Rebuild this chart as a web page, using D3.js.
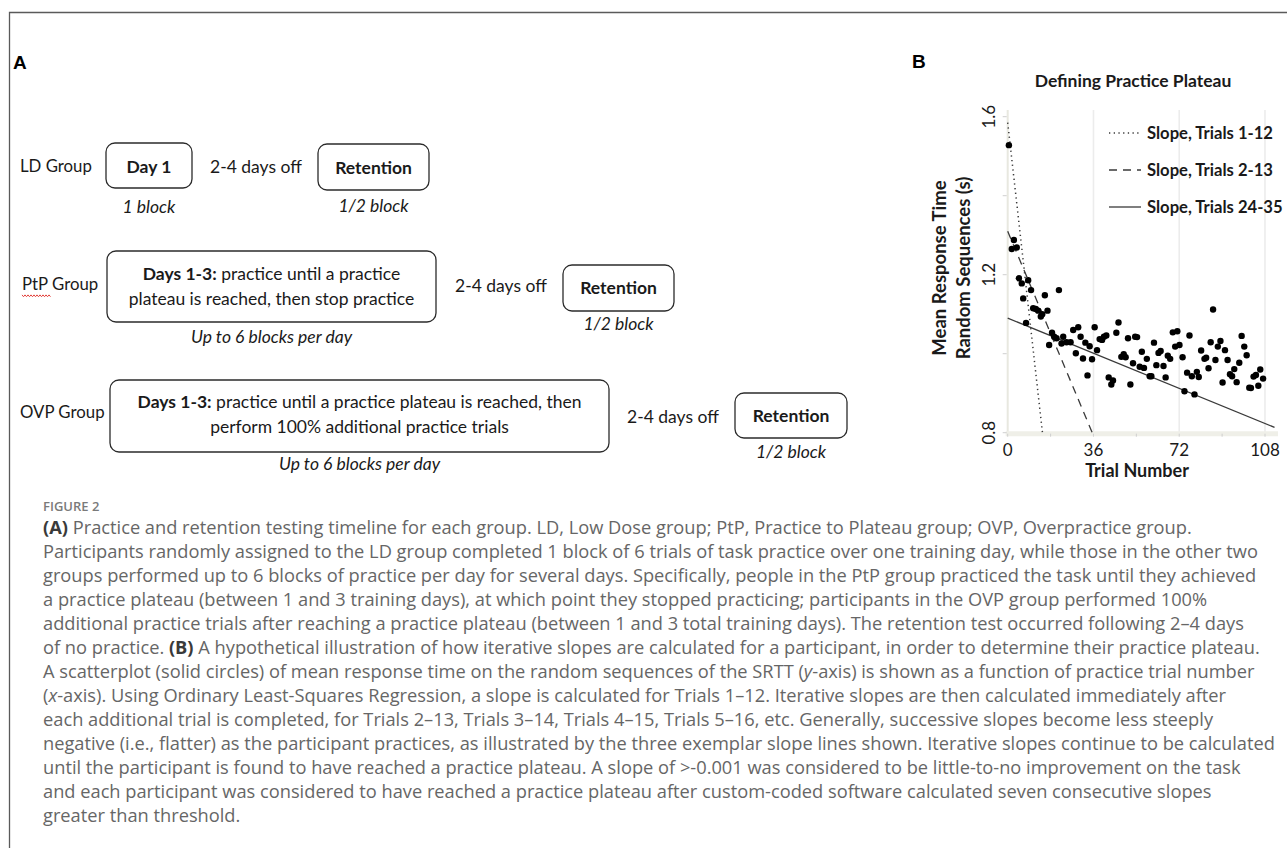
<!DOCTYPE html>
<html>
<head>
<meta charset="utf-8">
<script src="https://cdn.jsdelivr.net/npm/d3@7"></script>
<style>
  body { margin: 0; background: #fff; }
  svg { display: block; }
</style>
</head>
<body>
<svg id="fig" width="1287" height="848"></svg>
<script>
// Panel B scatter (trial number, mean RT in s)
const trials = [0.5, 1.7, 2.6, 3.8, 4.7, 5.9, 6.5, 7.7, 8.6, 9.8,
  10.7, 11.8, 12.8, 13.9, 14.5, 15.6, 16.7, 17.4, 18.6, 19.5,
  20.5, 21.5, 22.6, 23.3, 24.7, 26.4, 27.5, 28.6, 29.6, 30.6,
  31.6, 32.6, 33.5, 34.4, 35.4, 36.5, 37.5, 38.6, 39.6, 40.4,
  41.4, 42.4, 43.5, 44.2, 45.6, 46.5, 47.7, 48.7, 49.5, 50.5,
  51.5, 52.6, 53.5, 54.3, 55.4, 56.3, 57.2, 58.4, 59.6, 60.3,
  61.4, 62.4, 63.3, 64.2, 65.4, 66.3, 67.2, 68.2, 69.3, 70.3,
  71.2, 72.1, 73.4, 74.2, 75.3, 76.3, 77.3, 78.4, 79.4, 80.2,
  81.2, 82.6, 83.3, 84.3, 85.2, 86.2, 87.2, 88.2, 89.3, 90.2,
  91.2, 92.3, 93.3, 94.2, 95.1, 96.1, 97.2, 98.2, 99.3, 100.3,
  101.4, 102.1, 103.2, 104.2, 105.2, 106.0, 107.2];
const rtValues = [1.528, 1.265, 1.288, 1.269, 1.191, 1.178, 1.140, 1.078, 1.186, 1.161,
  1.115, 1.113, 1.109, 1.094, 1.100, 1.148, 1.109, 1.022, 1.053, 1.043,
  1.039, 1.161, 1.026, 1.043, 1.029, 1.029, 1.060, 1.001, 1.067, 1.043,
  0.988, 1.028, 0.945, 1.019, 0.986, 1.067, 1.009, 1.037, 1.035, 1.043,
  1.046, 0.940, 0.922, 0.932, 1.053, 1.079, 0.992, 0.999, 0.991, 1.039,
  0.922, 0.976, 1.043, 1.042, 0.967, 1.005, 0.964, 0.987, 0.943, 0.943,
  1.028, 0.971, 1.002, 1.007, 0.969, 0.940, 0.995, 0.987, 1.054, 1.018,
  1.057, 1.022, 0.991, 0.905, 0.952, 1.046, 0.943, 0.897, 0.954, 0.941,
  1.008, 0.987, 0.990, 0.963, 1.029, 1.112, 0.984, 1.018, 1.032, 0.927,
  1.009, 0.984, 0.948, 0.943, 0.961, 0.928, 0.977, 1.045, 1.018, 0.996,
  0.914, 0.913, 0.942, 0.946, 0.919, 0.960, 0.937];

const xTicks = [0, 36, 72, 108];
const xMinorTicks = [18, 54, 90];
const yTicks = [0.8, 1.2, 1.6];
const yMinorTicks = [1.0, 1.4];

// the three exemplar regression lines
const slopeNames = ["Slope, Trials 1-12", "Slope, Trials 2-13", "Slope, Trials 24-35"];
const slopeIntercepts = [1.585, 1.31, 1.09];
const slopeRates = [-0.0538, -0.01437, -0.00247];
const slopeEnds = [14.6, 35.5, 112];

// Panel A text
const groupNames = ["LD Group", "PtP Group", "OVP Group"];
const practiceText = [
  ["**Day 1**"],
  ["**Days 1-3:** practice until a practice", "plateau is reached, then stop practice"],
  ["**Days 1-3:** practice until a practice plateau is reached, then", "perform 100% additional practice trials"]
];
const practiceNotes = ["1 block", "Up to 6 blocks per day", "Up to 6 blocks per day"];
const gapText = "2-4 days off";
const retentionText = "Retention";
const retentionNote = "1/2 block";

const captionLines = [
  "**(A)** Practice and retention testing timeline for each group. LD, Low Dose group; PtP, Practice to Plateau group; OVP, Overpractice group.",
  "Participants randomly assigned to the LD group completed 1 block of 6 trials of task practice over one training day, while those in the other two",
  "groups performed up to 6 blocks of practice per day for several days. Specifically, people in the PtP group practiced the task until they achieved",
  "a practice plateau (between 1 and 3 training days), at which point they stopped practicing; participants in the OVP group performed 100%",
  "additional practice trials after reaching a practice plateau (between 1 and 3 total training days). The retention test occurred following 2\u20134 days",
  "of no practice. **(B)** A hypothetical illustration of how iterative slopes are calculated for a participant, in order to determine their practice plateau.",
  "A scatterplot (solid circles) of mean response time on the random sequences of the SRTT (_y_-axis) is shown as a function of practice trial number",
  "(_x_-axis). Using Ordinary Least-Squares Regression, a slope is calculated for Trials 1\u201312. Iterative slopes are then calculated immediately after",
  "each additional trial is completed, for Trials 2\u201313, Trials 3\u201314, Trials 4\u201315, Trials 5\u201316, etc. Generally, successive slopes become less steeply",
  "negative (i.e., flatter) as the participant practices, as illustrated by the three exemplar slope lines shown. Iterative slopes continue to be calculated",
  "until the participant is found to have reached a practice plateau. A slope of >-0.001 was considered to be little-to-no improvement on the task",
  "and each participant was considered to have reached a practice plateau after custom-coded software calculated seven consecutive slopes",
  "greater than threshold."
];

const svg = d3.select("#fig");
const sansA = "Lato, 'Open Sans', sans-serif";

// **bold** and _italic_ runs inside one text element
function richText(sel, str) {
  str.split(/(\*\*[^*]+\*\*|_[^_]+_)/).filter(s => s).forEach(p => {
    const t = sel.append("tspan");
    if (p.startsWith("**")) t.attr("font-weight", 700).text(p.slice(2, -2));
    else if (p.startsWith("_")) t.attr("font-style", "italic").text(p.slice(1, -1));
    else t.text(p);
  });
}

// frame
svg.append("path")
  .attr("d", "M9.5,860 V12.5 H1300")
  .attr("fill", "none")
  .attr("stroke", "#5a5a5a")
  .attr("stroke-width", 1.3);

// panel letters
svg.append("text").attr("x", 13).attr("y", 69).text("A")
  .attr("font-family", "'Liberation Sans', Arial, sans-serif").attr("font-weight", 700).attr("font-size", 19);
svg.append("text").attr("x", 912).attr("y", 68).text("B")
  .attr("font-family", "'Liberation Sans', Arial, sans-serif").attr("font-weight", 700).attr("font-size", 19);

// ---------- Panel A: timeline ----------
const rows = [
  { label: [20, 172], box: [106, 143, 86, 45], lines: [173], note: 213,
    gap: [210, 173], ret: [318, 144, 111, 46], retBase: 174, retNote: 212 },
  { label: [22, 290], box: [107, 251, 329, 71], lines: [280, 305], note: 343,
    gap: [455, 292], ret: [563, 265, 111, 46], retBase: 294, retNote: 330 },
  { label: [20, 418], box: [110, 380, 499, 72], lines: [408, 433], note: 470,
    gap: [627, 423], ret: [735, 393, 112, 45], retBase: 422, retNote: 458 }
];

const panelA = svg.append("g")
  .attr("font-family", sansA)
  .attr("font-size", 17.5)
  .attr("fill", "#1a1a1a");

rows.forEach((r, i) => {
  panelA.append("text").attr("x", r.label[0]).attr("y", r.label[1])
    .attr("font-size", 16.8).text(groupNames[i]);

  const [bx, by, bw, bh] = r.box;
  panelA.append("rect")
    .attr("x", bx).attr("y", by).attr("width", bw).attr("height", bh)
    .attr("rx", 9).attr("fill", "none").attr("stroke", "#2b2b2b").attr("stroke-width", 1.3);
  practiceText[i].forEach((ln, j) => {
    const t = panelA.append("text")
      .attr("x", bx + bw / 2).attr("y", r.lines[j])
      .attr("text-anchor", "middle");
    richText(t, ln);
  });
  panelA.append("text")
    .attr("x", bx + bw / 2).attr("y", r.note)
    .attr("text-anchor", "middle").attr("font-style", "italic")
    .text(practiceNotes[i]);

  panelA.append("text").attr("x", r.gap[0]).attr("y", r.gap[1]).text(gapText);

  const [rx, ry, rw, rh] = r.ret;
  panelA.append("rect")
    .attr("x", rx).attr("y", ry).attr("width", rw).attr("height", rh)
    .attr("rx", 9).attr("fill", "none").attr("stroke", "#2b2b2b").attr("stroke-width", 1.3);
  panelA.append("text")
    .attr("x", rx + rw / 2).attr("y", r.retBase)
    .attr("text-anchor", "middle").attr("font-weight", 700)
    .text(retentionText);
  panelA.append("text")
    .attr("x", rx + rw / 2).attr("y", r.retNote)
    .attr("text-anchor", "middle").attr("font-style", "italic")
    .text(retentionNote);
});

// spell-check squiggle under "PtP"
const squiggle = d3.range(0, 29, 1.5).map((d, k) => [22 + d, 295.5 + (k % 2 ? 1.2 : -0.6)]);
svg.append("path")
  .attr("d", d3.line()(squiggle))
  .attr("fill", "none").attr("stroke", "#e0302a").attr("stroke-width", 0.9);

// ---------- Panel B: scatter ----------
const x = d3.scaleLinear().domain([0, 108]).range([1007.7, 1265]);
const y = d3.scaleLinear().domain([0.8, 1.6]).range([432.7, 116.7]);

const panelB = svg.append("g").attr("font-family", sansA).attr("fill", "#1a1a1a");

// grid and axis bands
panelB.append("g").selectAll("line")
  .data(xTicks.slice(1))
  .join("line")
  .attr("x1", d => x(d)).attr("x2", d => x(d))
  .attr("y1", 110).attr("y2", 436)
  .attr("stroke", "#ececec").attr("stroke-width", 1.6);

panelB.append("line")
  .attr("x1", x(0)).attr("x2", x(0)).attr("y1", 110).attr("y2", 436)
  .attr("stroke", "#e8e8e0").attr("stroke-width", 2);
panelB.append("line")
  .attr("x1", x(0) - 2).attr("x2", 1278).attr("y1", y(0.8) + 1).attr("y2", y(0.8) + 1)
  .attr("stroke", "#efefe8").attr("stroke-width", 5);

// small gray ticks
panelB.append("g").selectAll("line")
  .data(xMinorTicks.concat(xTicks))
  .join("line")
  .attr("x1", d => x(d)).attr("x2", d => x(d))
  .attr("y1", y(0.8) + 1).attr("y2", y(0.8) + 4)
  .attr("stroke", "#cfcfcf").attr("stroke-width", 1);
panelB.append("g").selectAll("line")
  .data(yMinorTicks.concat(yTicks))
  .join("line")
  .attr("x1", x(0) - 5).attr("x2", x(0) - 1)
  .attr("y1", d => y(d)).attr("y2", d => y(d))
  .attr("stroke", "#cfcfcf").attr("stroke-width", 1);

// tick labels
panelB.append("g").selectAll("text")
  .data(xTicks)
  .join("text")
  .attr("x", d => x(d)).attr("y", 456)
  .attr("text-anchor", "middle").attr("font-size", 17)
  .text(d => d);
panelB.append("g").selectAll("text")
  .data(yTicks)
  .join("text")
  .attr("transform", d => `translate(995,${y(d)}) rotate(-90)`)
  .attr("text-anchor", "middle").attr("font-size", 17)
  .text(d => d.toFixed(1));

// axis titles
panelB.append("text")
  .attr("x", 1137).attr("y", 477)
  .attr("text-anchor", "middle").attr("font-size", 18).attr("font-weight", 700)
  .text("Trial Number");
const yTitle = panelB.append("text")
  .attr("transform", "translate(946,268) rotate(-90)")
  .attr("text-anchor", "middle").attr("font-size", 18.5).attr("font-weight", 700);
yTitle.append("tspan").attr("x", 0).attr("dy", 0).text("Mean Response Time");
yTitle.append("tspan").attr("x", 0).attr("dy", 23.5).text("Random Sequences (s)");

panelB.append("text")
  .attr("x", 1133).attr("y", 87)
  .attr("text-anchor", "middle").attr("font-size", 17.5).attr("font-weight", 700)
  .text("Defining Practice Plateau");

// regression lines
const dashes = ["1.3,3.4", "8,6", null];
slopeNames.forEach((name, i) => {
  panelB.append("line")
    .attr("x1", x(0)).attr("y1", y(slopeIntercepts[i]))
    .attr("x2", x(slopeEnds[i])).attr("y2", y(slopeIntercepts[i] + slopeRates[i] * slopeEnds[i]))
    .attr("stroke", "#3a3a3a").attr("stroke-width", i === 0 ? 1.5 : 1.3)
    .attr("stroke-dasharray", dashes[i]);
});

// points
panelB.append("g").selectAll("circle")
  .data(trials.map((t, i) => [t, rtValues[i]]))
  .join("circle")
  .attr("cx", d => x(d[0]))
  .attr("cy", d => y(d[1]))
  .attr("r", 3.2)
  .attr("fill", "#000");

// legend (last label kept just inside the page edge)
const legend = panelB.append("g");
slopeNames.forEach((name, i) => {
  const ly = 133 + i * 37;
  legend.append("line")
    .attr("x1", 1109).attr("x2", 1141).attr("y1", ly).attr("y2", ly)
    .attr("stroke", "#3a3a3a").attr("stroke-width", i === 0 ? 1.5 : 1.3)
    .attr("stroke-dasharray", dashes[i]);
  legend.append("text")
    .attr("x", 1147).attr("y", ly + 6)
    .attr("font-size", 16.6).attr("font-weight", 700)
    .text(name);
});

// ---------- caption ----------
const capFont = "'Open Sans', 'Noto Sans', sans-serif";
svg.append("text")
  .attr("x", 43).attr("y", 511)
  .attr("font-family", capFont).attr("font-size", 13).attr("font-weight", 600)
  .attr("fill", "#7a7a7a")
  .text("FIGURE 2");

const caption = svg.append("g")
  .attr("font-family", capFont)
  .attr("font-size", 16)
  .attr("fill", "#666");
captionLines.forEach((ln, i) => {
  const t = caption.append("text").attr("x", 43).attr("y", 534 + i * 24);
  richText(t, ln);
});
caption.selectAll("tspan").filter(function () { return d3.select(this).attr("font-weight") == 700; })
  .attr("fill", "#3a3a3a");

// fit caption width to the picture's measure (line 2 ends near x=1259)
const probe = caption.selectAll("text").nodes()[1];
const w = probe.getComputedTextLength();
caption.attr("font-size", 16 * (1259 - 43) / w);
</script>
</body>
</html>
